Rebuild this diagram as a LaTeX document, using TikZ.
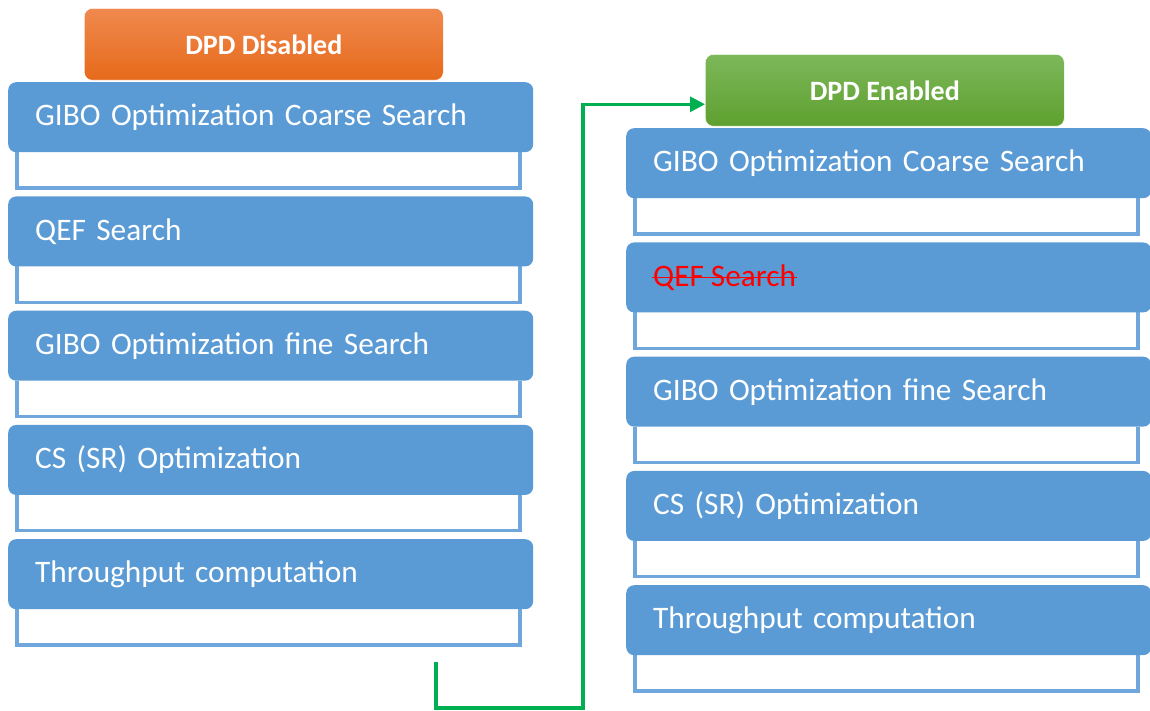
\documentclass[tikz,border=0pt]{standalone}
\usepackage{fontspec}
\setmainfont{Carlito}
\usetikzlibrary{arrows.meta}
\definecolor{boxblue}{HTML}{5B9BD5}
\definecolor{brblue}{HTML}{6FA6DC}
\definecolor{arrgreen}{HTML}{00B050}
\begin{document}
\begin{tikzpicture}[x=1pt,y=-1pt,
  stepbox/.style={draw=none,fill=boxblue,rounded corners=8pt,minimum width=525pt,minimum height=70pt,
    text width=471pt,align=left,inner xsep=27pt,inner ysep=0pt,anchor=north west,
    text=white,font=\fontsize{31.3}{34}\selectfont},
  hdr/.style={rounded corners=8pt,minimum width=359pt,minimum height=72pt,anchor=north west,
    text=white,font=\fontsize{28}{32}\selectfont\bfseries,draw=white,line width=0.6pt},
  bracket/.style={draw=brblue,line width=3.2pt},
  conn/.style={draw=arrgreen,line width=3.2pt,-{Triangle[length=15pt,width=15pt]}}
]
\useasboundingbox (0,0) rectangle (1150,711);
% left column
\node[hdr,shading=axis,top color={rgb,255:red,240;green,137;blue,79},bottom color={rgb,255:red,230;green,106;blue,26}] (hdrL) at (84,8) {DPD Disabled};
\foreach \i/\t [count=\k] in {0/{GIBO Optimization Coarse Search},1/{QEF Search},2/{GIBO Optimization fine Search},3/{CS (SR) Optimization},4/{Throughput computation}}{
  \draw[bracket] (17,{152+114.25*\i}) -- (17,{188+114.25*\i}) -- (520,{188+114.25*\i}) -- (520,{152+114.25*\i});
  \node[stepbox] (L\k) at (8,{82+114.25*\i}) {\t};
}
% right column
\node[hdr,shading=axis,top color={rgb,255:red,125;green,184;blue,90},bottom color={rgb,255:red,94;green,160;blue,47}] (hdrR) at (705,54) {DPD Enabled};
\foreach \i/\t [count=\k] in {0/{GIBO Optimization Coarse Search},1/{\phantom{QEF Search}},2/{GIBO Optimization fine Search},3/{CS (SR) Optimization},4/{Throughput computation}}{
  \draw[bracket] (635,{198+114.25*\i}) -- (635,{234+114.25*\i}) -- (1138,{234+114.25*\i}) -- (1138,{198+114.25*\i});
  \node[stepbox] (R\k) at (626,{128+114.25*\i}) {\t};
}
\node[anchor=west,inner sep=0pt,text=red,font=\fontsize{31.3}{34}\selectfont] (qef) at (653,277.5) {QEF Search};
\draw[red,line width=1.8pt] ([xshift=-1pt]qef.west) -- ([xshift=1pt]qef.east);
% connector
\coordinate (start) at (436,662);
\coordinate (tgt) at ([yshift=-14pt]hdrR.west);
\draw[conn] (start) -- (436,708) -- (583,708) |- (tgt);
\end{tikzpicture}
\end{document}
